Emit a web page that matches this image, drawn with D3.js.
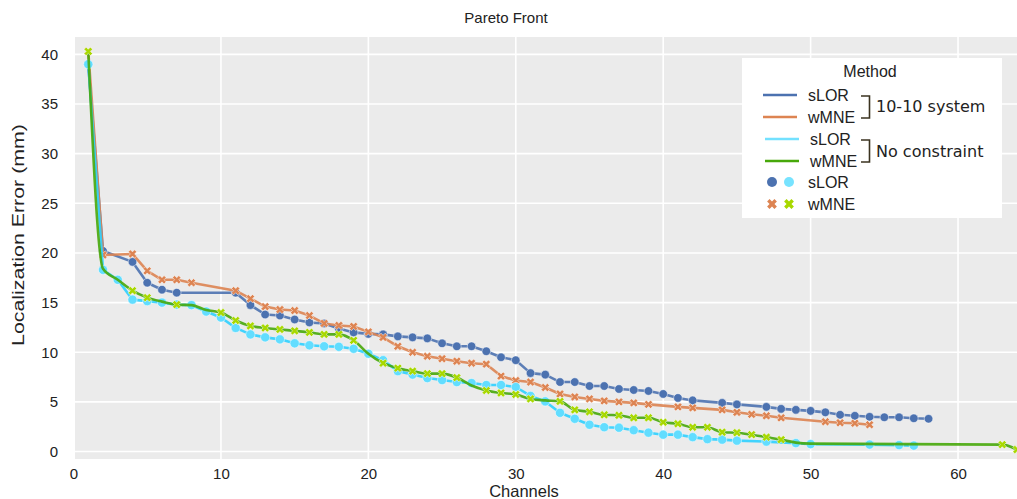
<!DOCTYPE html>
<html>
<head>
<meta charset="utf-8">
<script src="https://cdn.jsdelivr.net/npm/d3@7"></script>
<style>
  html, body { margin: 0; padding: 0; background: #ffffff; }
  svg { display: block; }
</style>
</head>
<body>
<svg id="chart" width="1017" height="499"></svg>
<script>
// ---------------- DATA ----------------
const xTicks = [0, 10, 20, 30, 40, 50, 60];
const yTicks = [0, 5, 10, 15, 20, 25, 30, 35, 40];

// sLOR, 10-10 system
const sLor1010Ch  = [1, 2, 4, 5, 6, 7, 11, 12, 13, 14, 15, 16, 17, 18, 19, 20, 21, 22, 23, 24, 25, 26, 27, 28, 29, 30, 31, 32, 33, 34, 35, 36, 37, 38, 39, 40, 41, 42, 44, 45, 47, 48, 49, 50, 51, 52, 53, 54, 55, 56, 57, 58];
const sLor1010Val = [39.0, 20.2, 19.1, 17.0, 16.3, 16.0, 16.0, 14.75, 13.8, 13.7, 13.3, 13.0, 12.9, 12.4, 12.0, 11.85, 11.8, 11.6, 11.5, 11.4, 10.9, 10.6, 10.6, 10.1, 9.5, 9.2, 7.9, 7.75, 7.0, 7.0, 6.6, 6.6, 6.3, 6.2, 6.1, 5.8, 5.4, 5.15, 4.9, 4.75, 4.5, 4.3, 4.2, 4.1, 3.95, 3.7, 3.6, 3.5, 3.45, 3.45, 3.35, 3.3];

// wMNE, 10-10 system
const wMne1010Ch  = [1, 2, 4, 5, 6, 7, 8, 11, 12, 13, 14, 15, 16, 17, 18, 19, 20, 21, 22, 23, 24, 25, 26, 27, 28, 29, 30, 31, 32, 33, 34, 35, 36, 37, 38, 39, 41, 42, 44, 45, 46, 47, 48, 51, 52, 53, 54];
const wMne1010Val = [40.3, 19.8, 19.9, 18.2, 17.3, 17.3, 17.0, 16.2, 15.4, 14.6, 14.3, 14.2, 13.7, 12.9, 12.7, 12.6, 12.05, 11.5, 10.6, 10.0, 9.6, 9.35, 9.1, 8.9, 8.8, 7.6, 7.15, 7.0, 6.45, 5.8, 5.5, 5.3, 5.1, 5.0, 4.9, 4.75, 4.5, 4.4, 4.2, 3.95, 3.75, 3.6, 3.4, 3.0, 2.9, 2.85, 2.7];

// sLOR, no constraint
const sLorFreeCh  = [1, 2, 3, 4, 5, 6, 7, 8, 9, 10, 11, 12, 13, 14, 15, 16, 17, 18, 19, 20, 21, 22, 23, 24, 25, 26, 27, 28, 29, 30, 31, 32, 33, 34, 35, 36, 37, 38, 39, 40, 41, 42, 43, 44, 45, 47, 49, 50, 54, 56, 57];
const sLorFreeVal = [39.0, 18.3, 17.3, 15.3, 15.15, 15.0, 14.8, 14.75, 14.1, 13.5, 12.45, 11.8, 11.5, 11.3, 10.9, 10.7, 10.6, 10.55, 10.35, 9.85, 9.2, 8.1, 7.75, 7.4, 7.2, 7.0, 6.9, 6.7, 6.7, 6.5, 5.6, 5.05, 3.9, 3.3, 2.7, 2.45, 2.4, 2.15, 1.9, 1.7, 1.7, 1.45, 1.25, 1.2, 1.1, 1.0, 0.85, 0.75, 0.7, 0.65, 0.6];

// wMNE, no constraint
const wMneFreeCh  = [1, 2, 3, 4, 5, 6, 7, 8, 9, 10, 11, 12, 13, 14, 15, 16, 17, 18, 19, 20, 21, 22, 23, 24, 25, 26, 27, 28, 29, 30, 31, 32, 33, 34, 35, 36, 37, 38, 39, 40, 41, 42, 43, 44, 45, 46, 47, 48, 49, 50, 63, 64];
const wMneFreeVal = [40.3, 18.4, 17.3, 16.2, 15.5, 15.1, 14.8, 14.75, 14.25, 14.0, 13.2, 12.65, 12.45, 12.3, 12.15, 12.0, 11.8, 11.8, 11.2, 9.85, 8.9, 8.4, 8.1, 7.85, 7.85, 7.45, 6.65, 6.15, 5.9, 5.75, 5.3, 5.15, 5.05, 4.2, 4.0, 3.7, 3.65, 3.4, 3.4, 2.95, 2.8, 2.45, 2.45, 1.95, 1.9, 1.7, 1.45, 1.2, 0.9, 0.8, 0.7, 0.2];
// channels of the wMNE (no constraint) series whose markers are visible
const wMneFreeMarkerCh = [1, 4, 5, 7, 10, 11, 12, 13, 14, 15, 16, 17, 18, 19, 21, 22, 23, 24, 25, 26, 28, 29, 30, 31, 33, 34, 35, 36, 37, 38, 39, 40, 41, 42, 43, 44, 45, 46, 47, 48, 63, 64];

const legendTitle = "Method";
const groupNames = ["10-10 system", "No constraint"];
const methodNames = ["sLOR", "wMNE"];

// ---------------- LAYOUT ----------------
const W = 1017, H = 499;
const plot = { left: 75, top: 37, right: 1017, bottom: 459 };
const SANS = "'Liberation Sans', Arial, sans-serif";
const DEJA = "'DejaVu Sans', Verdana, sans-serif";

const C = {
  blue: "#4c72b0", orange: "#dd8452",
  cyanLine: "#2fd0ff", cyanPt: "#62ddff",
  greenLine: "#47a80a", greenPt: "#a8d800",
  bg: "#ebebeb"
};

const svg = d3.select("#chart");
svg.append("rect").attr("width", W).attr("height", H).attr("fill", "#fff");

const x = d3.scaleLinear().domain([0.1, 64]).range([plot.left, plot.right]);
const y = d3.scaleLinear().domain([-0.75, 41.75]).range([plot.bottom, plot.top]);

svg.append("defs").append("clipPath").attr("id", "clip")
  .append("rect").attr("x", plot.left).attr("y", plot.top)
  .attr("width", plot.right - plot.left).attr("height", plot.bottom - plot.top);

svg.append("rect").attr("x", plot.left).attr("y", plot.top)
  .attr("width", plot.right - plot.left).attr("height", plot.bottom - plot.top)
  .attr("fill", C.bg);

const grid = svg.append("g").attr("clip-path", "url(#clip)");
grid.selectAll("line.gx").data(xTicks).join("line")
  .attr("x1", d => x(d)).attr("x2", d => x(d))
  .attr("y1", plot.top).attr("y2", plot.bottom)
  .attr("stroke", "#fff").attr("stroke-width", 1.6);
grid.selectAll("line.gy").data(yTicks).join("line")
  .attr("y1", d => y(d)).attr("y2", d => y(d))
  .attr("x1", plot.left).attr("x2", plot.right)
  .attr("stroke", "#fff").attr("stroke-width", 1.6);

// axes (labels only)
const xAxis = svg.append("g").attr("transform", `translate(0,${plot.bottom})`)
  .call(d3.axisBottom(x).tickValues(xTicks).tickSize(0).tickPadding(9).tickFormat(d3.format("d")));
const yAxis = svg.append("g").attr("transform", `translate(${plot.left},0)`)
  .call(d3.axisLeft(y).tickValues(yTicks).tickSize(0).tickPadding(17).tickFormat(d3.format("d")));
[xAxis, yAxis].forEach(a => {
  a.select(".domain").remove();
  a.selectAll("text").style("font-size", "15px").style("fill", "#222").style("font-family", SANS);
});

function txt(g, xx, yy, s, size, fam) {
  return g.append("text").attr("x", xx).attr("y", yy)
    .style("font-family", fam || SANS).style("font-size", size + "px").style("fill", "#222").text(s);
}

// titles
txt(svg, 506, 23, "Pareto Front", 15).attr("text-anchor", "middle");
txt(svg, 524, 497, "Channels", 16.5).attr("text-anchor", "middle");
svg.append("text").attr("transform", "translate(24,235) rotate(-90)")
  .attr("text-anchor", "middle")
  .attr("textLength", 222).attr("lengthAdjust", "spacingAndGlyphs")
  .style("font-family", SANS).style("font-size", "16.5px").style("fill", "#222")
  .text("Localization Error (mm)");

// ---------------- SERIES ----------------
const zip = (ch, val) => ch.map((c, i) => ({ c, v: val[i] }));
const crossPath = d3.symbol().type(d3.symbolCross).size(44)();
const marks = svg.append("g").attr("clip-path", "url(#clip)");

function drawSeries(data, lineColor, ptColor, kind, curve, markerData, r) {
  const line = d3.line().x(d => x(d.c)).y(d => y(d.v)).curve(curve);
  marks.append("path").datum(data).attr("d", line)
    .attr("fill", "none").attr("stroke", lineColor).attr("stroke-width", 2.6)
    .attr("stroke-opacity", 0.9).attr("stroke-linejoin", "round");
  const g = marks.append("g");
  if (kind === "circle") {
    g.selectAll("circle").data(markerData).join("circle")
      .attr("cx", d => x(d.c)).attr("cy", d => y(d.v)).attr("r", r)
      .attr("fill", ptColor).attr("stroke", "#fff").attr("stroke-opacity", 0.5).attr("stroke-width", 1);
  } else {
    g.selectAll("path").data(markerData).join("path")
      .attr("d", crossPath)
      .attr("transform", d => `translate(${x(d.c)},${y(d.v)}) rotate(45)`)
      .attr("fill", ptColor).attr("stroke", "#fff").attr("stroke-opacity", 0.6).attr("stroke-width", 0.8);
  }
}

const dBlue = zip(sLor1010Ch, sLor1010Val);
const dOrange = zip(wMne1010Ch, wMne1010Val);
const dCyan = zip(sLorFreeCh, sLorFreeVal);
const dGreen = zip(wMneFreeCh, wMneFreeVal);
drawSeries(dBlue, C.blue, C.blue, "circle", d3.curveLinear, dBlue, 4.3);
drawSeries(dOrange, C.orange, C.orange, "cross", d3.curveLinear, dOrange);
drawSeries(dCyan, C.cyanLine, C.cyanPt, "circle", d3.curveLinear, dCyan, 4.6);
drawSeries(dGreen, C.greenLine, C.greenPt, "cross", d3.curveMonotoneX,
  dGreen.filter(d => wMneFreeMarkerCh.includes(d.c)));

// ---------------- LEGEND ----------------
const lg = svg.append("g");
lg.append("rect").attr("x", 742).attr("y", 58).attr("width", 260).attr("height", 160)
  .attr("fill", "#fff");
txt(lg, 870, 77, legendTitle, 16).attr("text-anchor", "middle");

const lineItems = [
  { color: C.blue, y: 95, label: methodNames[0], tx: 808, x1: 763 },
  { color: C.orange, y: 117, label: methodNames[1], tx: 808, x1: 763 },
  { color: "#73e1ff", y: 139, label: methodNames[0], tx: 810, x1: 765 },
  { color: C.greenLine, y: 161, label: methodNames[1], tx: 810, x1: 765 }
];
lineItems.forEach(it => {
  lg.append("line").attr("x1", it.x1).attr("x2", it.x1 + 34)
    .attr("y1", it.y).attr("y2", it.y).attr("stroke", it.color).attr("stroke-width", 2.5);
  txt(lg, it.tx, it.y, it.label, 16).attr("dy", "0.36em");
});
// brackets
[[96, 118, groupNames[0], 106], [140, 162, groupNames[1], 151]].forEach(([t, b, label, ty]) => {
  lg.append("path").attr("d", `M861,${t} H869.5 V${b} H861`)
    .attr("fill", "none").attr("stroke", "#3b3320").attr("stroke-width", 1.6);
  txt(lg, 876, ty, label, 16, DEJA).attr("dy", "0.36em");
});
// marker keys
lg.append("circle").attr("cx", 772).attr("cy", 182).attr("r", 5).attr("fill", C.blue);
lg.append("circle").attr("cx", 789).attr("cy", 182).attr("r", 5).attr("fill", "#77e3ff");
txt(lg, 808, 182, methodNames[0], 16).attr("dy", "0.36em");
const bigCross = d3.symbol().type(d3.symbolCross).size(60)();
lg.append("path").attr("d", bigCross).attr("transform", "translate(772,204) rotate(45)").attr("fill", C.orange);
lg.append("path").attr("d", bigCross).attr("transform", "translate(789,204) rotate(45)").attr("fill", C.greenPt);
txt(lg, 808, 204, methodNames[1], 16).attr("dy", "0.36em");
</script>
</body>
</html>
